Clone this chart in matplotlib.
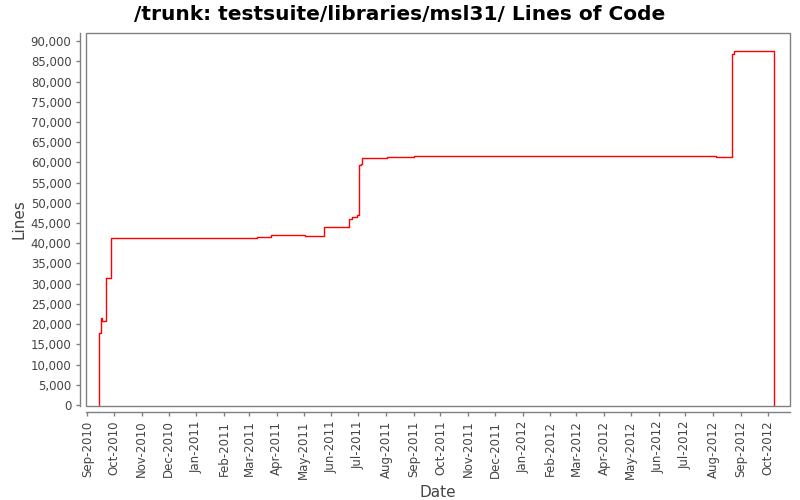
import matplotlib
matplotlib.use("Agg")
import matplotlib.pyplot as plt
import matplotlib.dates as mdates
from matplotlib.ticker import FuncFormatter, MultipleLocator
from matplotlib.patches import Rectangle
import pandas as pd

dates = ["2010-09-14", "2010-09-14", "2010-09-16", "2010-09-17", "2010-09-22",
         "2010-09-27", "2011-03-10", "2011-03-25", "2011-05-03", "2011-05-24",
         "2011-06-21", "2011-06-24", "2011-06-30", "2011-07-02", "2011-07-04",
         "2011-07-05", "2011-08-02", "2011-09-01", "2012-08-04", "2012-08-22",
         "2012-08-24", "2012-10-08"]
lines = [0, 17800, 21500, 20800, 31300,
         41200, 41600, 41950, 41700, 43900,
         45900, 46400, 46900, 59300, 59500,
         61000, 61250, 61550, 61250, 86700,
         87450, 0]

title = "/trunk: testsuite/libraries/msl31/ Lines of Code"
x_label = "Date"
y_label = "Lines"

x = pd.to_datetime(dates)

fig = plt.figure(figsize=(8, 5), dpi=100)
ax = fig.add_axes([86 / 800, 1 - 406 / 500, 704 / 800, 373 / 500])

ax.plot(x, lines, drawstyle="steps-post", color="#ff0000", linewidth=1.0)

ax.set_xlim(pd.Timestamp("2010-08-30 12:00"), pd.Timestamp("2012-10-26"))
ax.set_ylim(-250, 92000)

gray = "#808080"
for s in ["top", "right"]:
    ax.spines[s].set_visible(False)
for s in ["left", "bottom"]:
    ax.spines[s].set_position(("outward", 4))
    ax.spines[s].set_color(gray)
    ax.spines[s].set_linewidth(1.0)
ax.add_patch(Rectangle((0, 0), 1, 1, transform=ax.transAxes, fill=False,
                       edgecolor=gray, linewidth=1.0, clip_on=False, zorder=5))

ax.yaxis.set_major_locator(MultipleLocator(5000))
ax.yaxis.set_major_formatter(FuncFormatter(lambda v, p: f"{int(round(v)):,}"))
ax.xaxis.set_major_locator(mdates.MonthLocator())
ax.xaxis.set_major_formatter(mdates.DateFormatter("%b-%Y"))

ax.tick_params(axis="both", colors=gray, labelcolor="#444444", labelsize=8.5,
               length=3, width=1, direction="out")
plt.setp(ax.get_xticklabels(), rotation=90)

ax.set_xlabel(x_label, fontsize=11, color="#444444", labelpad=4)
ax.set_ylabel(y_label, fontsize=11, color="#444444", labelpad=3)
fig.text(0.5, 1 - 14 / 500, title, ha="center", va="center",
         fontsize=14.5, fontweight="bold", color="black")

fig.savefig("out.png", dpi=100)
